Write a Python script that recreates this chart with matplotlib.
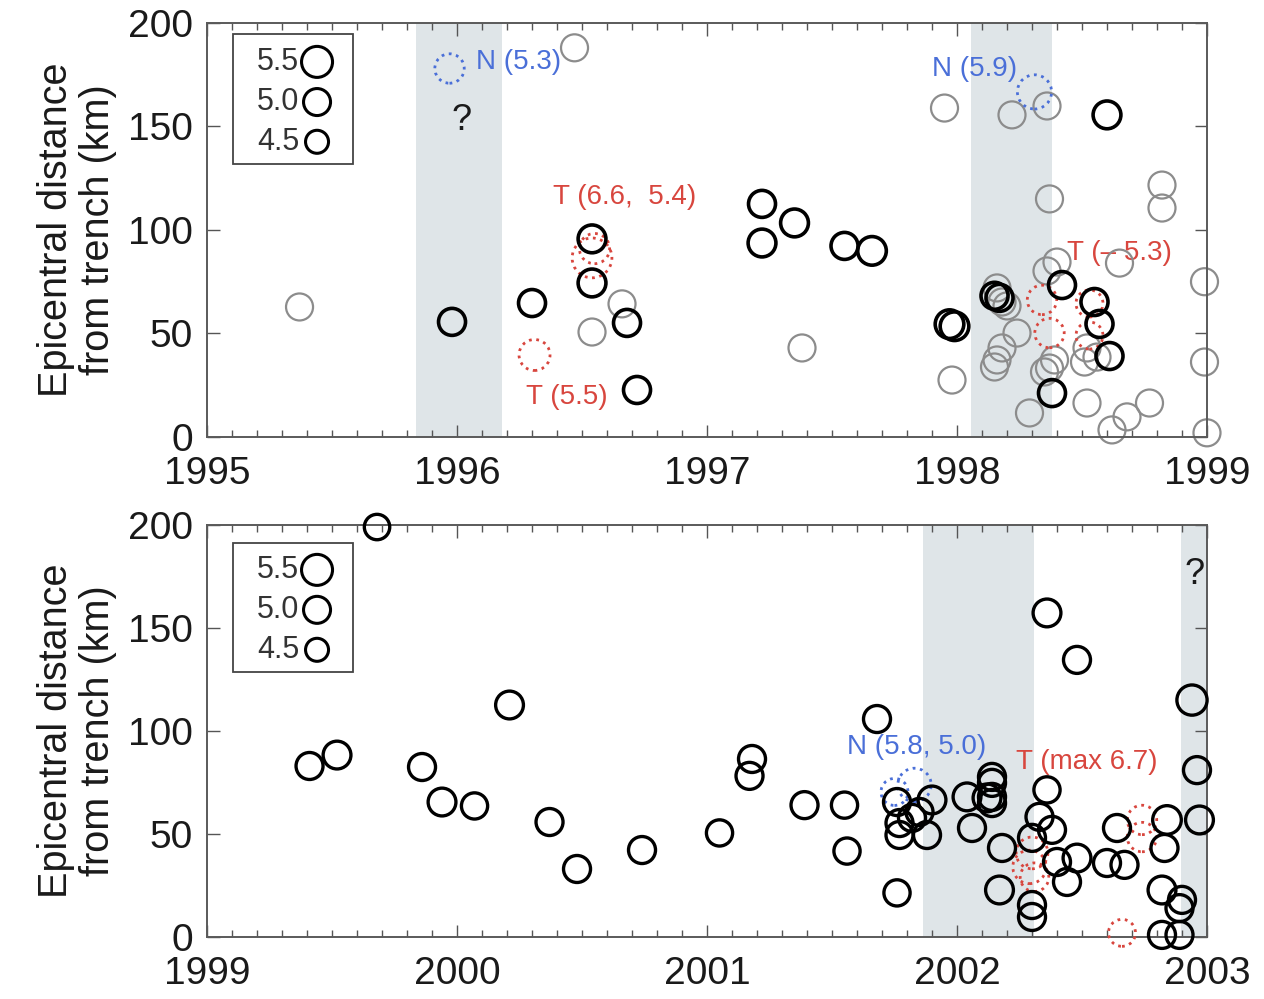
import matplotlib
matplotlib.use("Agg")
import matplotlib.pyplot as plt
from matplotlib.patches import Rectangle
from matplotlib.ticker import MultipleLocator

plt.rcParams['font.family'] = ['Liberation Sans', 'DejaVu Sans']

# ---- 1995-1999 panel ----
black_top_t = [1995.98, 1996.30, 1996.54, 1996.54, 1996.68, 1996.72, 1997.22, 1997.35,
               1997.22, 1997.55, 1997.66, 1997.97, 1997.99, 1998.15, 1998.17, 1998.42,
               1998.55, 1998.57, 1998.61, 1998.38, 1998.60]
black_top_d = [55.6, 64.7, 95.7, 74.4, 55.1, 22.7, 112.6, 103.4, 93.7, 92.3, 89.9, 54.5,
               53.5, 68.2, 67.2, 73.4, 65.2, 54.6, 39.1, 21.2, 155.6]
black_top_m = [5.0, 5.0, 5.1, 5.1, 5.0, 5.0, 5.0, 5.1, 5.1, 5.0, 5.2, 5.2,
               5.2, 5.0, 5.0, 5.0, 5.0, 5.0, 5.0, 5.0, 5.1]

gray_top_t = [1995.37, 1996.47, 1996.54, 1996.66, 1997.38, 1997.95, 1997.98, 1998.22,
              1998.36, 1998.37, 1998.82, 1998.82, 1998.36, 1998.40, 1998.65, 1998.18,
              1998.20, 1998.24, 1998.18, 1998.16, 1998.15, 1998.29, 1998.37, 1998.39,
              1998.35, 1998.51, 1998.52, 1998.56, 1998.52, 1998.62, 1998.68, 1998.77,
              1998.99, 1998.99, 1999.00, 1998.16]
gray_top_d = [62.8, 188.0, 50.7, 64.3, 43.0, 158.9, 27.5, 155.6, 159.9, 115.0, 121.7,
              110.6, 80.2, 84.5, 84.0, 65.2, 63.3, 50.2, 43.0, 37.2, 33.8, 11.6, 33.3,
              37.2, 31.4, 36.2, 43.0, 38.6, 16.4, 3.4, 9.7, 16.4, 75.0, 36.2, 2.0, 72.0]

red_top_t = [1996.54, 1996.55, 1996.31, 1998.34, 1998.37, 1998.53, 1998.53]
red_top_d = [86.5, 91.0, 39.6, 66.2, 50.2, 64.5, 49.0]
red_top_m = [6.6, 5.4, 5.5, 5.3, 5.3, 5.0, 5.0]

blue_top_t = [1995.97, 1998.31]
blue_top_d = [178.0, 166.7]
blue_top_m = [5.3, 5.9]

bands_top = [(1995.836, 1996.18), (1998.056, 1998.38)]

# ---- 1999-2003 panel ----
black_bot_t = [1999.68, 1999.41, 1999.52, 1999.86, 1999.94, 2000.07, 2000.21, 2000.37,
               2000.48, 2000.74, 2001.05, 2001.18, 2001.17, 2001.39, 2001.55, 2001.56,
               2001.68, 2001.76, 2001.76, 2001.77, 2001.77, 2001.85, 2001.90, 2001.88,
               2001.82, 2002.04, 2002.06, 2002.14, 2002.14, 2002.14, 2002.14, 2002.12,
               2002.18, 2002.17, 2002.30, 2002.30, 2002.33, 2002.36, 2002.38, 2002.30,
               2002.40, 2002.44, 2002.48, 2002.36, 2002.48, 2002.60, 2002.67, 2002.64,
               2002.84, 2002.83, 2002.82, 2002.82, 2002.89, 2002.90, 2002.89, 2002.96,
               2002.97, 2002.94]
black_bot_d = [199.0, 83.0, 88.3, 82.5, 65.5, 63.6, 112.6, 55.8, 33.0, 42.2, 50.5, 86.4,
               78.2, 64.0, 64.0, 41.7, 105.8, 21.4, 65.5, 55.3, 49.5, 60.7, 66.5, 49.5,
               57.8, 68.0, 52.9, 77.7, 74.8, 68.0, 65.0, 67.5, 43.2, 22.8, 15.5, 9.7,
               58.3, 71.4, 52.0, 48.1, 36.4, 26.7, 38.3, 157.3, 134.5, 35.9, 35.0, 52.9,
               56.8, 43.2, 22.8, 1.0, 1.0, 18.0, 14.0, 81.0, 56.8, 115.0]
black_bot_m = [4.8, 5.0, 5.1, 5.0, 5.1, 4.9, 5.1, 5.0, 5.0, 5.0, 4.9, 5.0,
               5.0, 5.0, 4.9, 4.9, 5.0, 4.9, 5.0, 5.0, 5.0, 5.0, 5.1, 5.0,
               5.0, 5.1, 5.0, 5.0, 5.0, 5.0, 5.0, 5.1, 5.0, 5.1, 5.0, 5.0,
               5.0, 4.9, 5.0, 5.0, 5.0, 5.0, 5.1, 5.1, 5.0, 5.0, 5.0, 5.0,
               5.2, 5.0, 5.1, 5.0, 5.0, 5.0, 5.0, 5.0, 5.1, 5.4]

red_bot_t = [2002.29, 2002.30, 2002.31, 2002.74, 2002.74, 2002.66]
red_bot_d = [34.0, 40.8, 29.0, 56.8, 48.5, 2.0]
red_bot_m = [5.8, 5.6, 5.2, 5.3, 5.3, 5.0]

blue_bot_t = [2001.75, 2001.83]
blue_bot_d = [70.4, 73.8]
blue_bot_m = [5.0, 5.8]

bands_bot = [(2001.864, 2002.308), (2002.895, 2003.0)]

legend_mags = [5.5, 5.0, 4.5]

RED = '#d8463e'
BLUE = '#4a6fd8'
GRAY = '#8c8c8c'


def msize(mags):
    # circle diameter in px grows with magnitude, converted to points^2
    return [((27 + 8 * (m - 5.0)) * 0.72) ** 2 for m in mags]


def setup(ax, x0, x1):
    ax.set_xlim(x0, x1)
    ax.set_ylim(0, 200)
    ax.xaxis.set_major_locator(MultipleLocator(1))
    ax.xaxis.set_minor_locator(MultipleLocator(0.1))
    ax.yaxis.set_major_locator(MultipleLocator(50))
    ax.xaxis.set_major_formatter(matplotlib.ticker.FormatStrFormatter('%d'))
    ax.tick_params(which='both', direction='in', top=True, right=True,
                   color='#555555', width=1.0)
    ax.tick_params(which='major', length=9, labelsize=28, labelcolor='#1a1a1a')
    ax.tick_params(which='minor', length=5)
    ax.tick_params(axis='x', pad=14)
    ax.tick_params(axis='y', pad=10)
    for sp in ax.spines.values():
        sp.set_color('#5a5a5a')
        sp.set_linewidth(1.4)
    ax.set_ylabel('Epicentral distance\nfrom trench (km)', fontsize=28.5,
                  color='#1a1a1a', labelpad=8, linespacing=1.15)


def bands(ax, spans):
    for a, b in spans:
        ax.axvspan(a, b, color='#dfe5e8', zorder=0, lw=0)


def size_legend(ax, y_top, y_bot, rows):
    ax.add_patch(Rectangle((0.026, y_bot), 0.12, y_top - y_bot, transform=ax.transAxes,
                           fill=False, edgecolor='#444444', lw=1.3, zorder=6))
    for m, yy in zip(legend_mags, rows):
        ax.text(0.092, yy, '%.1f' % m, transform=ax.transAxes, ha='right',
                va='center', fontsize=22, color='#333333', zorder=7)
        ax.scatter([0.110], [yy], s=msize([m]), facecolors='none', edgecolors='k',
                   linewidths=2.2, transform=ax.transAxes, zorder=7)


fig = plt.figure(figsize=(12.64, 9.99), dpi=100)
ax1 = fig.add_axes([0.1638, 0.5626, 0.7911, 0.4144])
ax2 = fig.add_axes([0.1638, 0.0621, 0.7911, 0.4124])

# top panel
setup(ax1, 1995, 1999)
bands(ax1, bands_top)
ax1.scatter(gray_top_t, gray_top_d, s=msize([5.0] * len(gray_top_t)), facecolors='none',
            edgecolors=GRAY, linewidths=1.6, zorder=2, clip_on=False)
ax1.scatter(red_top_t, red_top_d, s=msize(red_top_m), facecolors='none', edgecolors=RED,
            linewidths=2.0, linestyles=':', zorder=3, clip_on=False)
ax1.scatter(blue_top_t, blue_top_d, s=msize(blue_top_m), facecolors='none',
            edgecolors=BLUE, linewidths=2.0, linestyles=':', zorder=3, clip_on=False)
ax1.scatter(black_top_t, black_top_d, s=msize(black_top_m), facecolors='none',
            edgecolors='k', linewidths=2.6, zorder=4, clip_on=False)
ax1.text(1996.076, 181, 'N (5.3)', color=BLUE, fontsize=20, va='center', zorder=5)
ax1.text(1996.02, 153, '?', color='#1a1a1a', fontsize=26, ha='center', va='center')
ax1.text(1996.67, 116, 'T (6.6,  5.4)', color=RED, fontsize=20, ha='center', va='center', zorder=5)
ax1.text(1996.44, 19.5, 'T (5.5)', color=RED, fontsize=20, ha='center', va='center', zorder=5)
ax1.text(1998.07, 178, 'N (5.9)', color=BLUE, fontsize=20, ha='center', va='center', zorder=5)
ax1.text(1998.65, 89, 'T (– 5.3)', color=RED, fontsize=20, ha='center', va='center', zorder=1)
size_legend(ax1, 0.973, 0.659, [0.906, 0.809, 0.713])

# bottom panel
setup(ax2, 1999, 2003)
bands(ax2, bands_bot)
ax2.scatter(red_bot_t, red_bot_d, s=msize(red_bot_m), facecolors='none', edgecolors=RED,
            linewidths=2.0, linestyles=':', zorder=3, clip_on=False)
ax2.scatter(blue_bot_t, blue_bot_d, s=msize(blue_bot_m), facecolors='none',
            edgecolors=BLUE, linewidths=2.0, linestyles=':', zorder=3, clip_on=False)
ax2.scatter(black_bot_t, black_bot_d, s=msize(black_bot_m), facecolors='none',
            edgecolors='k', linewidths=2.4, zorder=4, clip_on=False)
ax2.text(2001.84, 92, 'N (5.8, 5.0)', color=BLUE, fontsize=20, ha='center', va='center', zorder=5)
ax2.text(2002.52, 85, 'T (max 6.7)', color=RED, fontsize=20, ha='center', va='center', zorder=5)
ax2.text(2002.95, 176, '?', color='#1a1a1a', fontsize=26, ha='center', va='center')
size_legend(ax2, 0.956, 0.643, [0.891, 0.794, 0.697])

fig.savefig('out.png', dpi=100)
